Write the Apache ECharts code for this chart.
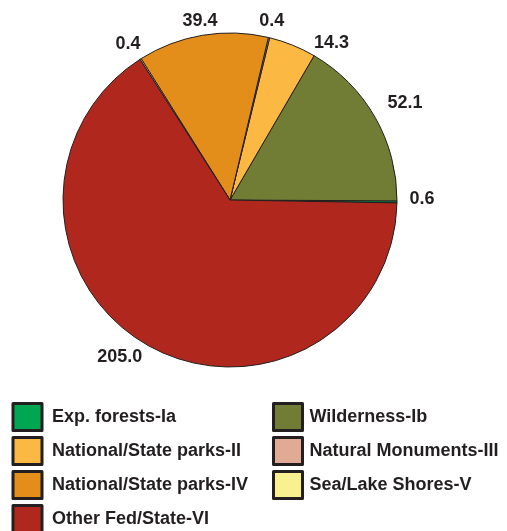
<!DOCTYPE html>
<html>
<head>
<meta charset="utf-8">
<script src="https://cdn.jsdelivr.net/npm/echarts@6/dist/echarts.min.js"></script>
<style>html,body{margin:0;padding:0;background:#fff;}#chart{width:507px;height:531px;}</style>
</head>
<body>
<div id="chart"></div>
<script>
const categories = ['Exp. forests-Ia', 'Wilderness-Ib', 'National/State parks-II', 'Natural Monuments-III', 'National/State parks-IV', 'Sea/Lake Shores-V', 'Other Fed/State-VI'];
const values = [0.6, 52.1, 14.3, 0.4, 39.4, 0.4, 205.0];
const legendCol1 = ['Exp. forests-Ia', 'National/State parks-II', 'National/State parks-IV', 'Other Fed/State-VI'];
const legendCol2 = ['Wilderness-Ib', 'Natural Monuments-III', 'Sea/Lake Shores-V'];

const colors = ['#00a651', '#717d35', '#fbb843', '#e0aa95', '#e38d1a', '#f9f08f', '#b0281d'];
const labelNudge = {
  'Exp. forests-Ia': [9, -3],
  'Wilderness-Ib': [16, -6],
  'National/State parks-II': [33, 13],
  'Natural Monuments-III': [-1, -1],
  'National/State parks-IV': [0, 2],
  'Sea/Lake Shores-V': [-4, -1],
  'Other Fed/State-VI': [-21, -3]
};
const ink = '#231f20';
const font = 'Liberation Sans, Arial, sans-serif';

const chart = echarts.init(document.getElementById('chart'), null, {renderer: 'canvas'});
const mainData = categories.map((c, i) => ({name: c, value: values[i], itemStyle: {color: colors[i]}}));
const ghostData = categories.map((c, i) => ({
  name: c, value: values[i],
  label: {offset: labelNudge[c] || [0, 0]}
}));
const legendBase = {
  orient: 'vertical', padding: 0, icon: 'rect', height: 200,
  itemWidth: 29, itemHeight: 27, itemGap: 4,
  itemStyle: {borderColor: ink, borderWidth: 3},
  selectedMode: false
};
chart.setOption({
  backgroundColor: '#fff',
  animation: false,
  legend: [
    Object.assign({}, legendBase, {left: 11.5, top: 402, data: legendCol1,
      textStyle: {fontSize: 18, fontWeight: 'bold', color: ink, fontFamily: font, padding: [0, 0, 0, 5]}}),
    Object.assign({}, legendBase, {left: 272, top: 402, data: legendCol2,
      textStyle: {fontSize: 18, fontWeight: 'bold', color: ink, fontFamily: font, padding: [0, 0, 0, 2]}})
  ],
  series: [
    {
      type: 'pie', center: [230, 200], radius: 167,
      startAngle: -1, clockwise: false, silent: true,
      label: {show: false}, labelLine: {show: false},
      itemStyle: {borderColor: ink, borderWidth: 1},
      data: mainData
    },
    {
      type: 'pie', center: [230, 200], radius: [172, 188],
      startAngle: -1, clockwise: false, silent: true,
      legendHoverLink: false,
      itemStyle: {color: 'rgba(0,0,0,0)', borderWidth: 0},
      label: {show: true, position: 'inside', color: ink, fontSize: 18, fontWeight: 'bold', fontFamily: font,
        formatter: p => p.value.toFixed(1)},
      labelLine: {show: false},
      data: ghostData
    }
  ]
});
</script>
</body>
</html>
